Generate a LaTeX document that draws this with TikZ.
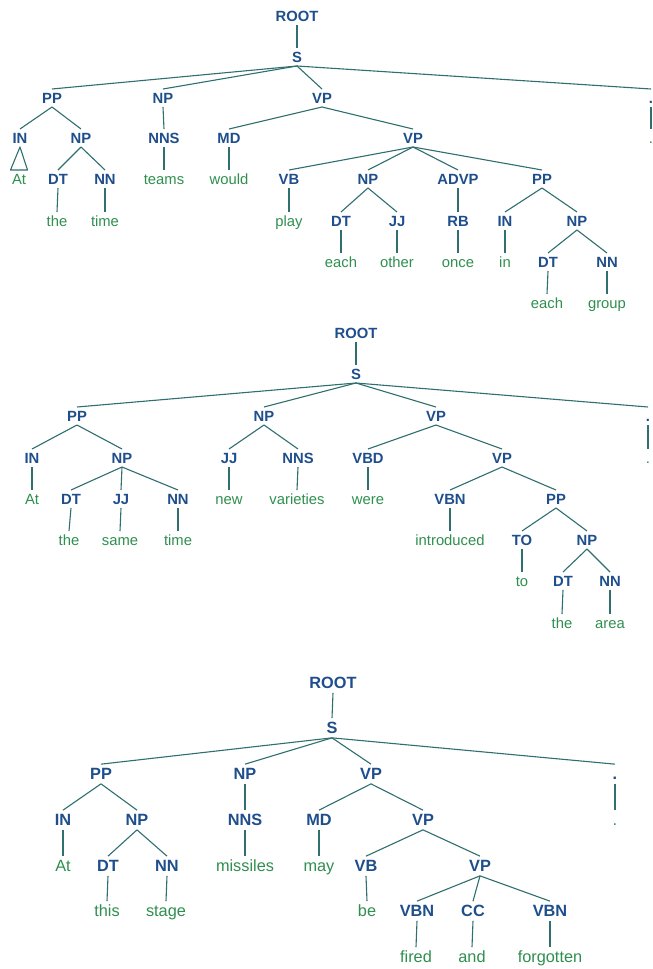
\documentclass[tikz,border=0pt]{standalone}
\usepackage{fontspec}
\setmainfont{Liberation Sans}
\definecolor{labc}{HTML}{1F4E8C}
\definecolor{wrdc}{HTML}{2F8F4F}
\definecolor{linec}{HTML}{2F6F6F}
\begin{document}
\begin{tikzpicture}[x=1pt,y=-1pt,
  lab/.style={font=\fontsize{14.8pt}{16pt}\selectfont\bfseries, text=labc, inner xsep=0pt, inner ysep=3.5pt, text height=10.6pt, text depth=0pt},
  wrd/.style={font=\fontsize{14.8pt}{16pt}\selectfont, text=wrdc, inner xsep=0pt, inner ysep=3.5pt, text height=10.6pt, text depth=0pt},
  labb/.style={font=\fontsize{16.3pt}{18pt}\selectfont\bfseries, text=labc, inner xsep=0pt, inner ysep=3.8pt, text height=11.7pt, text depth=0pt},
  wrdb/.style={font=\fontsize{16.3pt}{18pt}\selectfont, text=wrdc, inner xsep=0pt, inner ysep=3.8pt, text height=11.7pt, text depth=0pt},
  edge/.style={draw=linec, line width=1.1pt}]
\fill[white] (0,0) rectangle (653,969);
\useasboundingbox (0,0) rectangle (653,969);

% ---------- Tree 1 ----------
\node[lab] (t1root) at (297,16) {ROOT};
\node[lab] (t1s) at (297,57) {S};
\node[lab] (t1pp) at (52,98) {PP};
\node[lab] (t1np) at (163,98) {NP};
\node[lab] (t1vp) at (322,98) {VP};
\node[lab] (t1dot) at (651,98) {.};
\node[lab] (t1in) at (20,138) {IN};
\node[lab] (t1npb) at (81,138) {NP};
\node[lab] (t1nns) at (164,138) {NNS};
\node[lab] (t1md) at (229,138) {MD};
\node[lab] (t1vpb) at (413,138) {VP};
\node[wrd] (t1dotw) at (651,138) {.};
\node[wrd] (t1at) at (19,179) {At};
\node[lab] (t1dt) at (58,179) {DT};
\node[lab] (t1nn) at (105,179) {NN};
\node[wrd] (t1teams) at (164,179) {teams};
\node[wrd] (t1would) at (229,179) {would};
\node[lab] (t1vb) at (289,179) {VB};
\node[lab] (t1npc) at (368,179) {NP};
\node[lab] (t1advp) at (458,179) {ADVP};
\node[lab] (t1ppb) at (542,179) {PP};
\node[wrd] (t1the) at (57,221) {the};
\node[wrd] (t1time) at (105,221) {time};
\node[wrd] (t1play) at (289,221) {play};
\node[lab] (t1dtb) at (341,221) {DT};
\node[lab] (t1jj) at (397,221) {JJ};
\node[lab] (t1rb) at (458,221) {RB};
\node[lab] (t1inb) at (505,221) {IN};
\node[lab] (t1npd) at (577,221) {NP};
\node[wrd] (t1each) at (341,262) {each};
\node[wrd] (t1other) at (397,262) {other};
\node[wrd] (t1once) at (458,262) {once};
\node[wrd] (t1inw) at (505,262) {in};
\node[lab] (t1dtc) at (548,262) {DT};
\node[lab] (t1nnb) at (607,262) {NN};
\node[wrd] (t1eachb) at (547,303) {each};
\node[wrd] (t1group) at (607,303) {group};

\foreach \a/\b in {t1root/t1s, t1s/t1pp, t1s/t1np, t1s/t1vp, t1s/t1dot,
  t1pp/t1in, t1pp/t1npb, t1npb/t1dt, t1npb/t1nn, t1dt/t1the, t1nn/t1time,
  t1np/t1nns, t1nns/t1teams, t1vp/t1md, t1vp/t1vpb, t1md/t1would,
  t1vpb/t1vb, t1vpb/t1npc, t1vpb/t1advp, t1vpb/t1ppb, t1vb/t1play,
  t1npc/t1dtb, t1npc/t1jj, t1dtb/t1each, t1jj/t1other, t1advp/t1rb, t1rb/t1once,
  t1ppb/t1inb, t1ppb/t1npd, t1inb/t1inw, t1npd/t1dtc, t1npd/t1nnb,
  t1dtc/t1eachb, t1nnb/t1group, t1dot/t1dotw}
  \draw[edge] (\a.south) -- (\b.north);
\draw[edge, line join=round] (t1in.south) -- ([xshift=-8.5pt]t1at.north) -- ([xshift=8.5pt]t1at.north) -- cycle;

% ---------- Tree 2 ----------
\node[lab] (t2root) at (356,333) {ROOT};
\node[lab] (t2s) at (356,374) {S};
\node[lab] (t2pp) at (77,416) {PP};
\node[lab] (t2np) at (264,416) {NP};
\node[lab] (t2vp) at (436,416) {VP};
\node[lab] (t2dot) at (648,416) {.};
\node[lab] (t2in) at (32,458) {IN};
\node[lab] (t2npb) at (122,458) {NP};
\node[lab] (t2jj) at (229,458) {JJ};
\node[lab] (t2nns) at (298,458) {NNS};
\node[lab] (t2vbd) at (368,458) {VBD};
\node[lab] (t2vpb) at (502,458) {VP};
\node[wrd] (t2dotw) at (648,458) {.};
\node[wrd] (t2at) at (32,499) {At};
\node[lab] (t2dt) at (71,499) {DT};
\node[lab] (t2jjb) at (121,499) {JJ};
\node[lab] (t2nn) at (178,499) {NN};
\node[wrd] (t2new) at (229,499) {new};
\node[wrd] (t2var) at (297,499) {varieties};
\node[wrd] (t2were) at (368,499) {were};
\node[lab] (t2vbn) at (450,499) {VBN};
\node[lab] (t2ppb) at (556,499) {PP};
\node[wrd] (t2the) at (69,540) {the};
\node[wrd] (t2same) at (120,540) {same};
\node[wrd] (t2time) at (178,540) {time};
\node[wrd] (t2intr) at (450,540) {introduced};
\node[lab] (t2to) at (522,540) {TO};
\node[lab] (t2npc) at (587,540) {NP};
\node[wrd] (t2tow) at (522,581) {to};
\node[lab] (t2dtb) at (563,581) {DT};
\node[lab] (t2nnb) at (610,581) {NN};
\node[wrd] (t2theb) at (562,623) {the};
\node[wrd] (t2area) at (610,623) {area};

\foreach \a/\b in {t2root/t2s, t2s/t2pp, t2s/t2np, t2s/t2vp, t2s/t2dot,
  t2pp/t2in, t2pp/t2npb, t2in/t2at, t2npb/t2dt, t2npb/t2jjb, t2npb/t2nn,
  t2dt/t2the, t2jjb/t2same, t2nn/t2time, t2np/t2jj, t2np/t2nns,
  t2jj/t2new, t2nns/t2var, t2vp/t2vbd, t2vp/t2vpb, t2vbd/t2were,
  t2vpb/t2vbn, t2vpb/t2ppb, t2vbn/t2intr, t2ppb/t2to, t2ppb/t2npc,
  t2to/t2tow, t2npc/t2dtb, t2npc/t2nnb, t2dtb/t2theb, t2nnb/t2area,
  t2dot/t2dotw}
  \draw[edge] (\a.south) -- (\b.north);

% ---------- Tree 3 ----------
\node[labb] (t3root) at (333,683) {ROOT};
\node[labb] (t3s) at (332,728) {S};
\node[labb] (t3pp) at (101,774) {PP};
\node[labb] (t3np) at (245,774) {NP};
\node[labb] (t3vp) at (371,774) {VP};
\node[labb] (t3dot) at (615,774) {.};
\node[labb] (t3in) at (63,820) {IN};
\node[labb] (t3npb) at (137,820) {NP};
\node[labb] (t3nns) at (245,820) {NNS};
\node[labb] (t3md) at (319,820) {MD};
\node[labb] (t3vpb) at (423,820) {VP};
\node[wrdb] (t3dotw) at (615,820) {.};
\node[wrdb] (t3at) at (63,866) {At};
\node[labb] (t3dt) at (108,866) {DT};
\node[labb] (t3nn) at (167,866) {NN};
\node[wrdb] (t3miss) at (245,866) {missiles};
\node[wrdb] (t3may) at (319,866) {may};
\node[labb] (t3vb) at (366,866) {VB};
\node[labb] (t3vpc) at (480,866) {VP};
\node[wrdb] (t3this) at (107,911) {this};
\node[wrdb] (t3stage) at (166,911) {stage};
\node[wrdb] (t3be) at (367,911) {be};
\node[labb] (t3vbn) at (417,911) {VBN};
\node[labb] (t3cc) at (473,911) {CC};
\node[labb] (t3vbnb) at (550,911) {VBN};
\node[wrdb] (t3fired) at (416,957) {fired};
\node[wrdb] (t3and) at (472,957) {and};
\node[wrdb] (t3forg) at (550,957) {forgotten};

\foreach \a/\b in {t3root/t3s, t3s/t3pp, t3s/t3np, t3s/t3vp, t3s/t3dot,
  t3pp/t3in, t3pp/t3npb, t3in/t3at, t3npb/t3dt, t3npb/t3nn,
  t3dt/t3this, t3nn/t3stage, t3np/t3nns, t3nns/t3miss,
  t3vp/t3md, t3vp/t3vpb, t3md/t3may, t3vpb/t3vb, t3vpb/t3vpc, t3vb/t3be,
  t3vpc/t3vbn, t3vpc/t3cc, t3vpc/t3vbnb, t3vbn/t3fired, t3cc/t3and,
  t3vbnb/t3forg, t3dot/t3dotw}
  \draw[edge] (\a.south) -- (\b.north);
\end{tikzpicture}
\end{document}
